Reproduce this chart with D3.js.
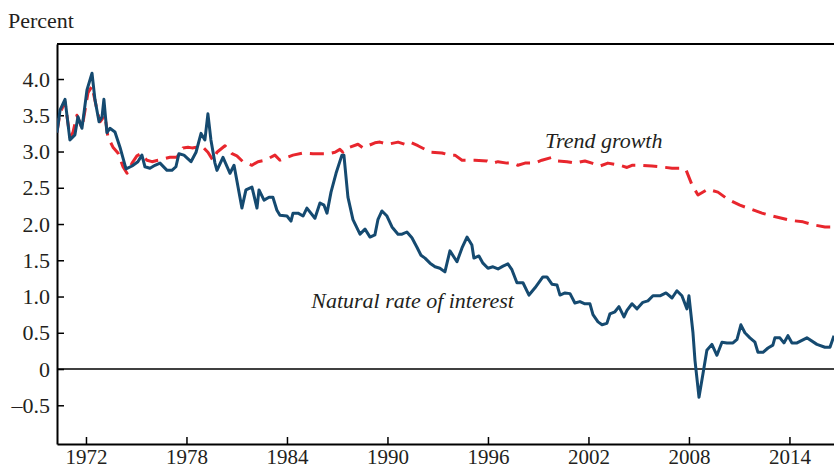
<!DOCTYPE html>
<html>
<head>
<meta charset="utf-8">
<script src="https://cdn.jsdelivr.net/npm/d3@7"></script>
<style>
    body { margin: 0; background: #fff; }
    svg, svg text { font-family: "Liberation Serif", Tinos, "Times New Roman", Times, "DejaVu Serif", serif; fill: #231f20; }
</style>
</head>
<body>
<div id="chart"></div>
<script>
// Natural rate of interest (decimal year, percent)
const natDates = [
    1970.27, 1970.45, 1970.75, 1971.04, 1971.34, 1971.52, 1971.76, 1972.06, 1972.36, 1972.54,
    1972.78, 1972.96, 1973.07, 1973.25, 1973.43, 1973.73, 1974.03, 1974.39, 1974.75, 1975.10,
    1975.34, 1975.52, 1975.82, 1976.12, 1976.42, 1976.84, 1977.13, 1977.37, 1977.55, 1977.85,
    1978.27, 1978.57, 1978.87, 1979.10, 1979.28, 1979.46, 1979.70, 1979.82, 1980.18, 1980.60,
    1980.84, 1981.31, 1981.55, 1981.91, 1982.21, 1982.33, 1982.63, 1982.93, 1983.16, 1983.40,
    1983.58, 1984.00, 1984.24, 1984.36, 1984.66, 1984.96, 1985.19, 1985.67, 1985.97, 1986.21,
    1986.39, 1986.63, 1986.93, 1987.28, 1987.40, 1987.64, 1987.94, 1988.36, 1988.66, 1988.96,
    1989.25, 1989.43, 1989.67, 1989.97, 1990.27, 1990.63, 1990.87, 1991.16, 1991.46, 1991.76,
    1992.00, 1992.24, 1992.54, 1992.84, 1993.13, 1993.43, 1993.73, 1994.15, 1994.45, 1994.75,
    1995.04, 1995.16, 1995.46, 1995.70, 1996.00, 1996.30, 1996.60, 1996.90, 1997.19, 1997.43,
    1997.73, 1998.09, 1998.45, 1998.81, 1999.28, 1999.52, 1999.82, 2000.12, 2000.30, 2000.60,
    2000.90, 2001.19, 2001.49, 2001.79, 2002.09, 2002.27, 2002.57, 2002.81, 2003.10, 2003.28,
    2003.58, 2003.82, 2004.12, 2004.30, 2004.60, 2004.90, 2005.25, 2005.55, 2005.85, 2006.27,
    2006.63, 2006.99, 2007.28, 2007.58, 2007.88, 2008.00, 2008.24, 2008.36, 2008.60, 2008.84,
    2009.07, 2009.37, 2009.67, 2009.97, 2010.27, 2010.63, 2010.87, 2011.10, 2011.34, 2011.64,
    2011.94, 2012.12, 2012.42, 2012.72, 2013.01, 2013.13, 2013.43, 2013.67, 2013.91, 2014.15,
    2014.45, 2015.04, 2015.64, 2016.12, 2016.42, 2016.66
];
const natRates = [
    3.26, 3.57, 3.72, 3.16, 3.23, 3.48, 3.32, 3.85, 4.08, 3.71,
    3.41, 3.48, 3.72, 3.26, 3.32, 3.27, 3.06, 2.76, 2.80, 2.86,
    2.95, 2.79, 2.77, 2.81, 2.84, 2.74, 2.74, 2.79, 2.97, 2.95,
    2.86, 2.99, 3.25, 3.16, 3.52, 3.16, 2.84, 2.74, 2.92, 2.70,
    2.81, 2.22, 2.47, 2.51, 2.22, 2.47, 2.33, 2.37, 2.37, 2.19,
    2.12, 2.11, 2.04, 2.15, 2.15, 2.11, 2.22, 2.08, 2.29, 2.26,
    2.15, 2.44, 2.70, 2.95, 2.95, 2.37, 2.06, 1.86, 1.93, 1.82,
    1.85, 2.06, 2.18, 2.11, 1.96, 1.86, 1.86, 1.89, 1.81, 1.68,
    1.57, 1.53, 1.46, 1.41, 1.39, 1.34, 1.63, 1.48, 1.67, 1.82,
    1.71, 1.53, 1.56, 1.46, 1.39, 1.41, 1.38, 1.42, 1.45, 1.37,
    1.19, 1.19, 1.02, 1.12, 1.27, 1.27, 1.17, 1.16, 1.02, 1.05,
    1.04, 0.91, 0.93, 0.90, 0.90, 0.75, 0.65, 0.61, 0.63, 0.76,
    0.79, 0.86, 0.72, 0.81, 0.90, 0.83, 0.92, 0.94, 1.01, 1.01,
    1.05, 0.98, 1.08, 1.01, 0.83, 1.01, 0.50, 0.12, -0.39, -0.06,
    0.26, 0.34, 0.19, 0.37, 0.36, 0.36, 0.41, 0.61, 0.50, 0.43,
    0.37, 0.23, 0.23, 0.29, 0.33, 0.43, 0.43, 0.36, 0.46, 0.36,
    0.36, 0.43, 0.34, 0.30, 0.30, 0.46
];

// Trend growth
const trendDates = [
    1970.27, 1970.45, 1970.75, 1971.04, 1971.22, 1971.46, 1971.76, 1972.12, 1972.36, 1972.66,
    1972.84, 1973.13, 1973.31, 1973.61, 1973.91, 1974.21, 1974.45, 1974.75, 1975.04, 1975.28,
    1975.64, 1975.94, 1976.30, 1977.01, 1977.43, 1977.79, 1978.09, 1978.33, 1978.63, 1978.99,
    1979.28, 1979.58, 1979.82, 1980.30, 1980.72, 1981.01, 1981.37, 1981.91, 1982.27, 1982.69,
    1983.28, 1983.58, 1983.88, 1984.36, 1984.96, 1985.55, 1986.45, 1986.87, 1987.16, 1987.34,
    1987.64, 1988.24, 1988.54, 1988.84, 1989.25, 1989.55, 1990.03, 1990.63, 1991.04, 1991.34,
    1991.82, 1992.24, 1992.54, 1993.25, 1993.73, 1994.03, 1994.45, 1995.22, 1995.94, 1996.30,
    1996.60, 1997.13, 1997.49, 1997.79, 1998.21, 1998.81, 1999.22, 1999.82, 2000.18, 2000.72,
    2001.19, 2001.79, 2002.21, 2002.69, 2003.16, 2003.88, 2004.30, 2004.60, 2005.19, 2005.79,
    2006.27, 2006.99, 2007.46, 2007.82, 2008.18, 2008.54, 2009.13, 2009.73, 2010.33, 2011.04,
    2011.76, 2012.36, 2013.01, 2013.73, 2014.09, 2014.81, 2015.40, 2016.12, 2016.66
];
const trendRates = [
    3.27, 3.53, 3.68, 3.20, 3.26, 3.50, 3.32, 3.81, 3.90, 3.57,
    3.41, 3.50, 3.20, 3.06, 2.98, 2.79, 2.70, 2.84, 2.94, 2.97,
    2.88, 2.86, 2.88, 2.92, 2.92, 3.05, 3.06, 3.05, 3.06, 3.06,
    2.99, 2.88, 2.99, 3.08, 2.97, 2.94, 2.86, 2.81, 2.86, 2.88,
    2.95, 2.88, 2.91, 2.95, 2.98, 2.97, 2.97, 2.99, 3.03, 2.99,
    3.05, 3.10, 3.05, 3.08, 3.12, 3.13, 3.10, 3.13, 3.10, 3.13,
    3.08, 3.03, 2.99, 2.98, 2.95, 2.95, 2.88, 2.88, 2.87, 2.84,
    2.86, 2.84, 2.84, 2.81, 2.84, 2.84, 2.88, 2.92, 2.87, 2.86,
    2.84, 2.87, 2.84, 2.80, 2.84, 2.81, 2.78, 2.81, 2.81, 2.80,
    2.79, 2.77, 2.77, 2.75, 2.54, 2.40, 2.48, 2.44, 2.34, 2.26,
    2.20, 2.15, 2.11, 2.07, 2.05, 2.03, 1.99, 1.96, 1.96
];

const yearTicks = [1972, 1978, 1984, 1990, 1996, 2002, 2008, 2014];
const percentTicks = [-0.5, 0, 0.5, 1.0, 1.5, 2.0, 2.5, 3.0, 3.5, 4.0];

const width = 834;
const height = 469;
const plot = { left: 57, right: 834, top: 44, bottom: 444 };

const blue = "#154a70";
const red = "#e8262d";
const fontFamily = "'Liberation Serif', Tinos, 'Times New Roman', Times, 'DejaVu Serif', serif";

const svg = d3.select("#chart").append("svg")
    .attr("width", width)
    .attr("height", height)
    .attr("font-family", fontFamily);

const x = d3.scaleLinear()
    .domain([1970.27, 2016.66])
    .range([plot.left, plot.right]);

const y = d3.scaleLinear()
    .domain([-1.034, 4.483])
    .range([plot.bottom, plot.top]);

svg.append("clipPath")
    .attr("id", "plotClip")
    .append("rect")
    .attr("x", plot.left)
    .attr("y", plot.top)
    .attr("width", plot.right - plot.left)
    .attr("height", plot.bottom - plot.top);

// Top frame line
svg.append("line")
    .attr("x1", plot.left).attr("x2", plot.right)
    .attr("y1", plot.top).attr("y2", plot.top)
    .attr("stroke", "#000")
    .attr("stroke-width", 2);

// Zero line
svg.append("line")
    .attr("x1", plot.left).attr("x2", plot.right)
    .attr("y1", y(0)).attr("y2", y(0))
    .attr("stroke", "#000")
    .attr("stroke-width", 1.5);

const fmt = d => d === 0 ? "0" : (d < 0 ? "–" : "") + d3.format(".1f")(Math.abs(d));

const yAxis = svg.append("g")
    .attr("transform", `translate(${plot.left},0)`)
    .call(d3.axisLeft(y).tickValues(percentTicks).tickFormat(fmt)
        .tickSizeInner(-7).tickSizeOuter(0).tickPadding(7));
yAxis.attr("font-size", 22);

// Year labels sit right on the bottom edge, so they are a touch smaller
const xAxis = svg.append("g")
    .attr("transform", `translate(0,${plot.bottom})`)
    .call(d3.axisBottom(x).tickValues(yearTicks).tickFormat(d3.format("d"))
        .tickSizeInner(-7).tickSizeOuter(0).tickPadding(5));
xAxis.attr("font-size", 21);

[yAxis, xAxis].forEach(g => {
    g.attr("font-family", fontFamily);
    g.select(".domain").attr("stroke", "#000").attr("stroke-width", 2);
    g.selectAll(".tick line").attr("stroke", "#000").attr("stroke-width", 1.5);
    g.selectAll(".tick text").attr("fill", "#231f20");
});

const natData = natDates.map((d, i) => [d, natRates[i]]);
const trendData = trendDates.map((d, i) => [d, trendRates[i]]);

const line = d3.line()
    .x(d => x(d[0]))
    .y(d => y(d[1]));

const lines = svg.append("g").attr("clip-path", "url(#plotClip)");

lines.append("path")
    .datum(trendData)
    .attr("d", line)
    .attr("fill", "none")
    .attr("stroke", red)
    .attr("stroke-width", 3)
    .attr("stroke-dasharray", "14,8")
    .attr("stroke-linejoin", "round");

lines.append("path")
    .datum(natData)
    .attr("d", line)
    .attr("fill", "none")
    .attr("stroke", blue)
    .attr("stroke-width", 3)
    .attr("stroke-linejoin", "round");

// Labels
svg.append("text")
    .attr("x", 8)
    .attr("y", 28)
    .attr("font-size", 22)
    .text("Percent");

svg.append("text")
    .attr("x", x(1999.4))
    .attr("y", 148)
    .attr("font-size", 22)
    .attr("font-style", "italic")
    .text("Trend growth");

svg.append("text")
    .attr("x", x(1985.45))
    .attr("y", 308)
    .attr("font-size", 22)
    .attr("font-style", "italic")
    .text("Natural rate of interest");
</script>
</body>
</html>
